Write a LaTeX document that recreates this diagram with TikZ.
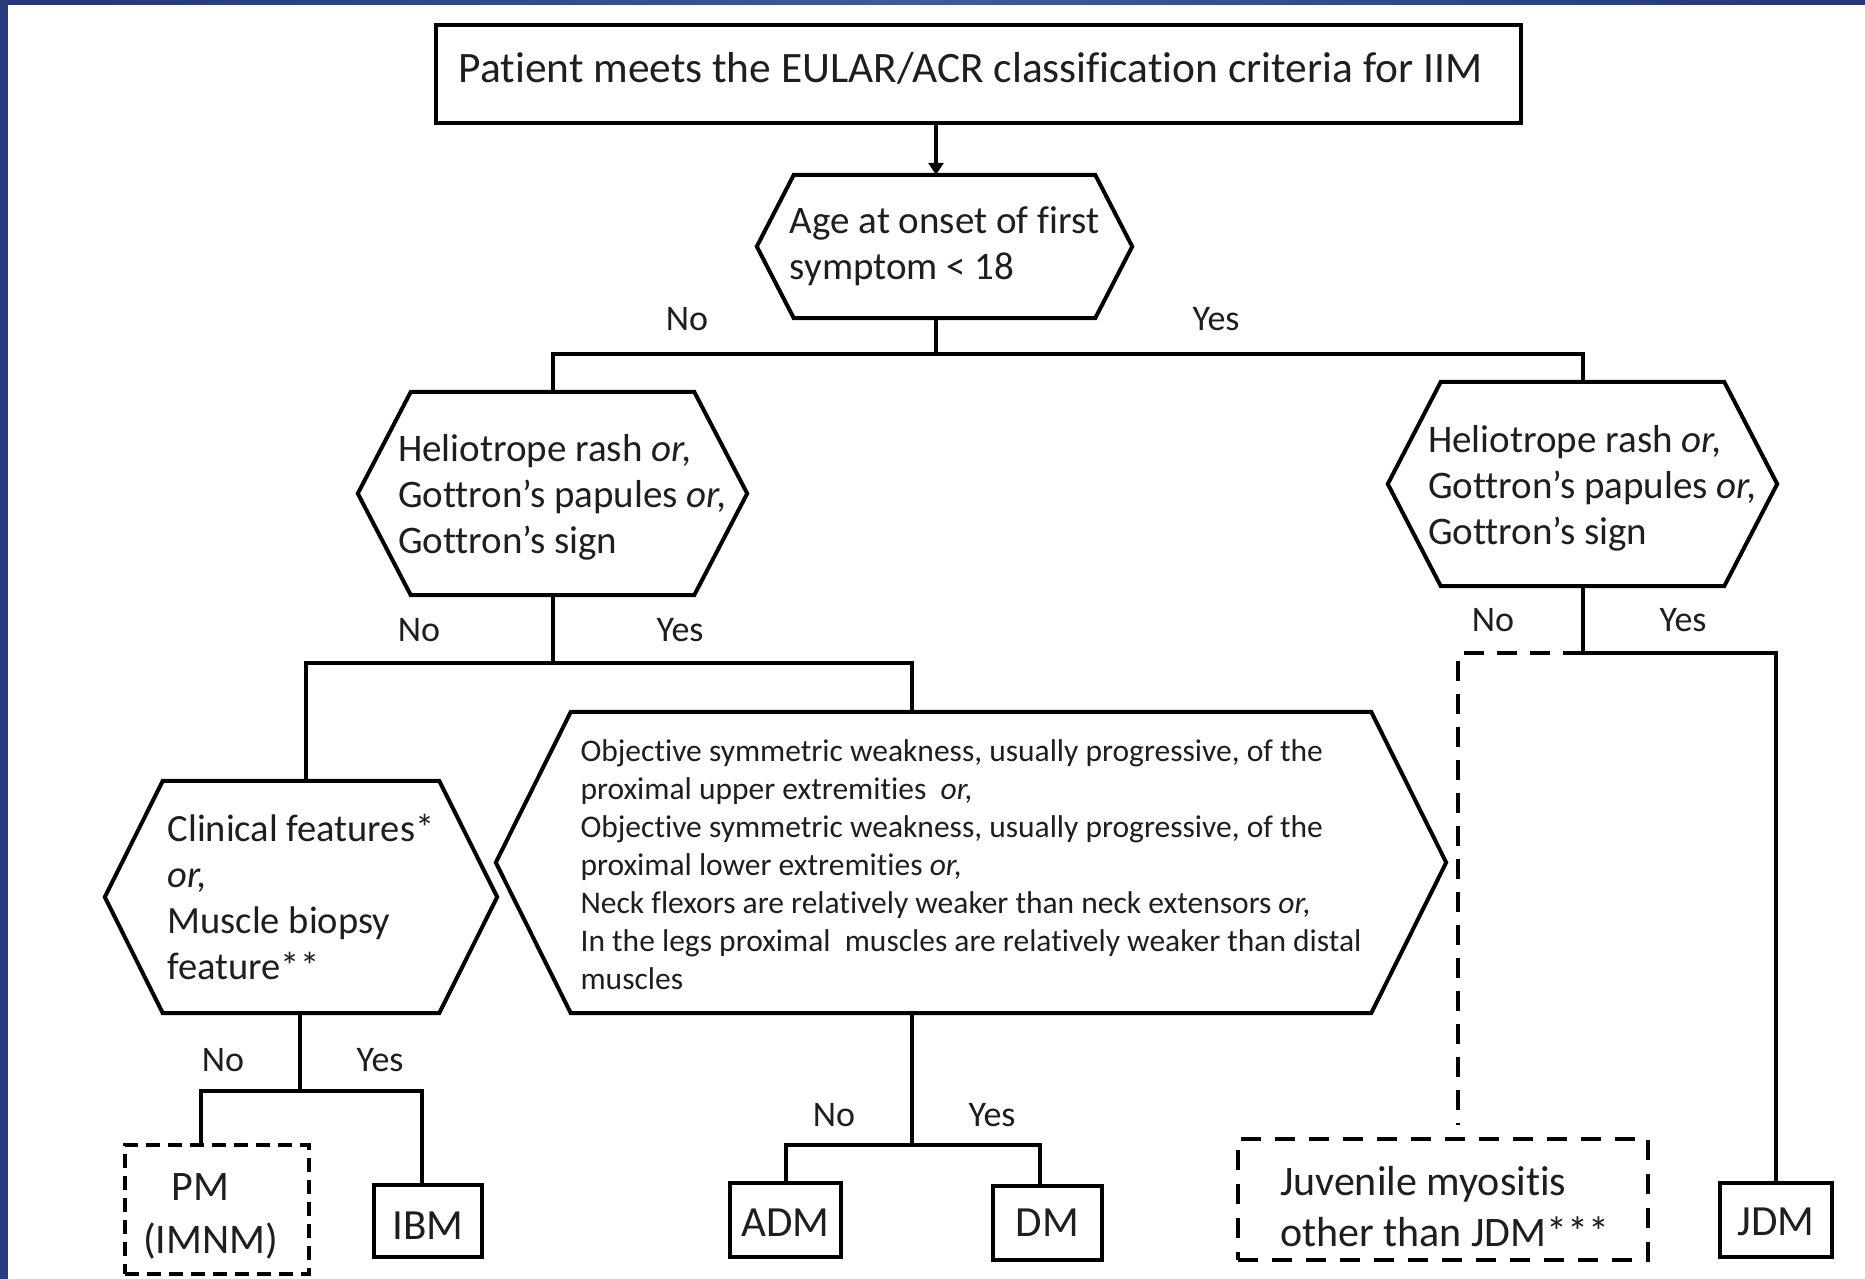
\documentclass[tikz,border=0pt]{standalone}
\usepackage{fontspec}
\setmainfont{Carlito}[Ligatures=CommonOff]
\usetikzlibrary{arrows.meta,calc}
\definecolor{navyA}{HTML}{22367A}
\definecolor{navyB}{HTML}{3D5C9C}
\definecolor{txt}{HTML}{1E1E1E}
\newcommand{\hexout}[2]{\draw[hexline] (#1.west) -- ([xshift=#2]#1.north west) -- ([xshift=-#2]#1.north east) -- (#1.east) -- ([xshift=-#2]#1.south east) -- ([xshift=#2]#1.south west) -- cycle;}
\newcommand{\shiftv}[2]{\raisebox{#1}[\height][\depth]{#2}}
\newcommand{\hl}[1]{\hspace*{20pt}\shiftv{-4pt}{#1}}
\begin{document}
\begin{tikzpicture}[x=1pt,y=-1pt,
  hexn/.style={inner sep=0pt, align=left, text=txt, font=\fontsize{39}{46}\selectfont},
  hexline/.style={line width=4pt, line join=miter},
  boxn/.style={draw, line width=4.5pt, inner sep=0pt, text=txt, font=\fontsize{43}{52}\selectfont},
  dboxn/.style={boxn, line width=4pt, dash pattern=on 18pt off 11pt},
  ln/.style={line width=4pt},
  dln/.style={line width=4pt, dash pattern=on 20pt off 13pt},
  arr/.style={line width=4pt, -{Triangle[length=12pt,width=15pt]}},
  lab/.style={text=txt, inner sep=0pt, font=\fontsize{36}{40}\selectfont}]
\useasboundingbox (0,0) rectangle (1865,1279);
\fill[white] (0,0) rectangle (1865,1279);
% slide border
\shade[left color=navyA, right color=navyA, middle color=navyB] (0,0) rectangle (1865,5);
\fill[navyA!85!navyB] (0,0) rectangle (8,1279);

% nodes
\node[boxn, minimum width=1085pt, minimum height=98pt, font=\fontsize{43.4}{52}\selectfont] (top) at (978.5,74) {\shiftv{6pt}{Patient meets the EULAR/ACR classification criteria for IIM}\hspace*{16pt}};

\node[hexn, minimum width=375pt, minimum height=143pt] (age) at (944.5,246.5) {Age at onset of first\\symptom < 18};
\hexout{age}{37pt}

\node[hexn, minimum width=389pt, minimum height=203pt] (lh) at (552.5,493.5) {\hl{Heliotrope rash \textit{or,}}\\\hl{Gottron’s papules \textit{or,}}\\\hl{Gottron’s sign}};
\hexout{lh}{53pt}

\node[hexn, minimum width=389pt, minimum height=204pt] (rh) at (1582.5,484) {\hl{Heliotrope rash \textit{or,}}\\\hl{Gottron’s papules \textit{or,}}\\\hl{Gottron’s sign}};
\hexout{rh}{53pt}

\node[hexn, minimum width=392pt, minimum height=232pt, font=\fontsize{38.5}{46}\selectfont] (cl) at (301,897) {Clinical features*\\\textit{or,}\\Muscle biopsy\\feature**};
\hexout{cl}{58pt}

\node[hexn, minimum width=950pt, minimum height=301pt, font=\fontsize{31.5}{37.9}\selectfont] (big) at (971,862.5) {\shiftv{-2pt}{Objective symmetric weakness, usually progressive, of the}\\\shiftv{-2pt}{proximal upper extremities\ \ \textit{or,}}\\\shiftv{-2pt}{Objective symmetric weakness, usually progressive, of the}\\\shiftv{-2pt}{proximal lower extremities \textit{or,}}\\\shiftv{-2pt}{Neck flexors are relatively weaker than neck extensors \textit{or,}}\\\shiftv{-2pt}{In the legs proximal\ \ muscles are relatively weaker than distal}\\\shiftv{-2pt}{muscles}};
\hexout{big}{75pt}

\node[dboxn, dash pattern=on 14pt off 8pt, minimum width=184pt, minimum height=129pt, align=center, font=\fontsize{42}{53}\selectfont] (pm) at (217,1209.5) {\shiftv{-7pt}{PM}\hspace*{33pt}\\\shiftv{-7pt}{(IMNM)}\hspace*{13pt}};
\node[boxn, minimum width=108pt, minimum height=72pt] (ibm) at (428,1221) {\shiftv{-5pt}{IBM}};
\node[boxn, minimum width=111pt, minimum height=74pt] (adm) at (785.5,1220) {\shiftv{-3pt}{ADM}};
\node[boxn, minimum width=109pt, minimum height=74pt] (dm) at (1047.5,1223) {DM};
\node[dboxn, dash pattern=on 20pt off 14pt, minimum width=410pt, minimum height=121pt, align=left, font=\fontsize{42}{51}\selectfont] (juv) at (1443,1199.5) {\hspace*{3pt}\shiftv{-7pt}{Juvenile myositis}\\\hspace*{3pt}\shiftv{-7pt}{other than JDM***}};
\node[boxn, minimum width=112pt, minimum height=74pt] (jdm) at (1776,1220) {\shiftv{-2pt}{JDM}};

% junction coordinates
\coordinate (j0) at (936,354);
\coordinate (a1) at (306,663);
\coordinate (a2) at (912,663);
\coordinate (b0) at (300,1091);
\coordinate (b1) at (201,1091);
\coordinate (b2) at (422,1091);
\coordinate (d0) at (912,1145);
\coordinate (d1) at (786,1145);
\coordinate (d2) at (1040,1145);
\coordinate (e0) at (1582.5,653);
\coordinate (e1) at (1458,653);
\coordinate (e2) at (1776,653);
\coordinate (e3) at (1458,1125);

% connectors
\draw[arr] (top.south -| j0) -- (age.north -| j0);
\draw[ln] (age.south -| j0) -- (j0);
\draw[ln] (lh.north) -- (lh.north |- j0) -- (rh.north |- j0) -- (rh.north);
\draw[ln] (lh.south) -- (lh.south |- a1);
\draw[ln] (cl.north -| a1) -- (a1) -- (a2) -- (big.north -| a2);
\draw[ln] (cl.south -| b0) -- (b0);
\draw[ln] (pm.north -| b1) -- (b1) -- (b2) -- (ibm.north -| b2);
\draw[ln] (big.south -| d0) -- (d0);
\draw[ln] (adm.north -| d1) -- (d1) -- (d2) -- (dm.north -| d2);
\draw[ln] (rh.south) -- (e0) -- (e2) -- (jdm.north -| e2);
\draw[dln] (e0) -- (e1) -- (e3);

% labels
\node[lab] (l1) at (687,319) {No};
\node[lab] (l2) at (1216,319) {Yes};
\node[lab] (l3) at (419,630) {No};
\node[lab] (l4) at (680,630) {Yes};
\node[lab] (l5) at (1493,620.5) {No};
\node[lab] (l6) at (1683,620.5) {Yes};
\node[lab] (l7) at (223,1060) {No};
\node[lab] (l8) at (380,1060) {Yes};
\node[lab] (l9) at (834,1115) {No};
\node[lab] (l10) at (992,1115) {Yes};
\end{tikzpicture}
\end{document}
